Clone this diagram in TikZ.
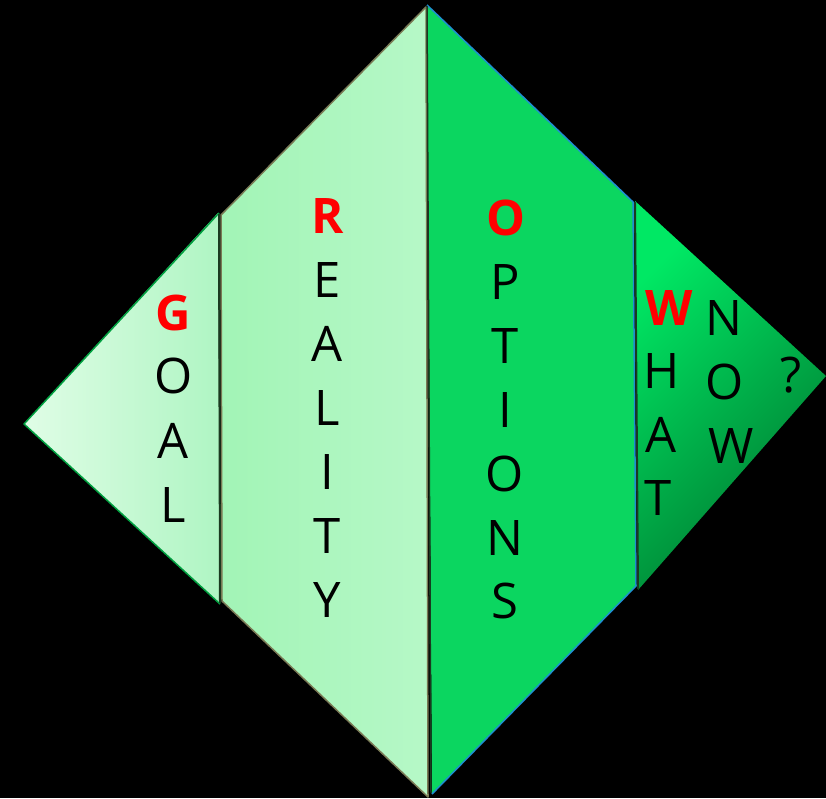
\documentclass[tikz,border=0pt]{standalone}
\usepackage{fontspec}
\setmainfont{Open Sans}
\definecolor{goalL}{HTML}{E0FDE6}
\definecolor{goalR}{HTML}{AFF5C3}
\definecolor{goalB}{HTML}{00A040}
\definecolor{realL}{HTML}{A2F4B6}
\definecolor{realR}{HTML}{B6F8C7}
\definecolor{realB}{HTML}{7A7A55}
\definecolor{optF}{HTML}{0BD660}
\definecolor{optB}{HTML}{1E8FD0}
\definecolor{whatT}{HTML}{00E864}
\definecolor{whatB}{HTML}{007A30}
\definecolor{edgeD}{HTML}{1A3A20}
\tikzset{
  letter/.style={font=\fontsize{49}{49}\selectfont, text=black, inner sep=0pt, anchor=base},
  initial/.style={font=\fontsize{49}{49}\selectfont\bfseries, text=red, inner sep=0pt, anchor=base},
}
\begin{document}
\begin{tikzpicture}[x=1pt,y=-1pt]
\fill[black] (0,0) rectangle (826,798);
\useasboundingbox (0,0) rectangle (826,798);
% REALITY
\shade[left color=realL, right color=realR] (221,215) -- (426,7) -- (428,797) -- (222,601) -- cycle;
\draw[realB, line width=1.5pt, line join=round] (221,215) -- (426,7) -- (428,797) -- (222,601) -- cycle;
% OPTIONS
\fill[optF] (427,5) -- (633,202) -- (636,586) -- (432,794) -- cycle;
\draw[optB, line width=1.5pt, line join=round] (427,5) -- (633,202) -- (636,586) -- (432,794);
\draw[edgeD, line width=1.5pt] (427,6) -- (431,793);
% GOAL
\shade[left color=goalL, right color=goalR] (24,424) -- (218,213) -- (220,604) -- cycle;
\draw[goalB, line width=1.5pt, line join=round] (219,213) -- (24,424) -- (220,604);
\draw[edgeD, line width=2pt] (219,214) -- (220,603);
% WHAT NOW
\shade[top color=whatT, bottom color=whatB, shading angle=45] (635,201) -- (826,376) -- (638,590) -- cycle;
\draw[edgeD, line width=2pt] (635,202) -- (638,589);
% GOAL text
\node[initial] (g1) at (173,330) {G};
\node[letter] (g2) at (174,393) {O};
\node[letter] (g3) at (173,458) {A};
\node[letter] (g4) at (173,522) {L};
% REALITY text
\node[initial] (r1) at (328,233) {R};
\node[letter] (r2) at (327,297) {E};
\node[letter] (r3) at (327,361) {A};
\node[letter] (r4) at (327,425) {L};
\node[letter] (r5) at (327,489) {I};
\node[letter] (r6) at (327,553) {T};
\node[letter] (r7) at (327,617) {Y};
% OPTIONS text
\node[initial] (o1) at (506,235) {O};
\node[letter] (o2) at (505,299) {P};
\node[letter] (o3) at (505,363) {T};
\node[letter] (o4) at (505,427) {I};
\node[letter] (o5) at (505,491) {O};
\node[letter] (o6) at (505,555) {N};
\node[letter] (o7) at (505,618) {S};
% WHAT text
\node[initial] (w1) at (669,325) {W};
\node[letter] (w2) at (662,388) {H};
\node[letter] (w3) at (661,452) {A};
\node[letter] (w4) at (658,515) {T};
% NOW text
\node[letter] (n1) at (724,335) {N};
\node[letter] (n2) at (725,399) {O};
\node[letter] (n3) at (731,463) {W};
\node[letter] (q) at (791,392) {?};
\end{tikzpicture}
\end{document}
